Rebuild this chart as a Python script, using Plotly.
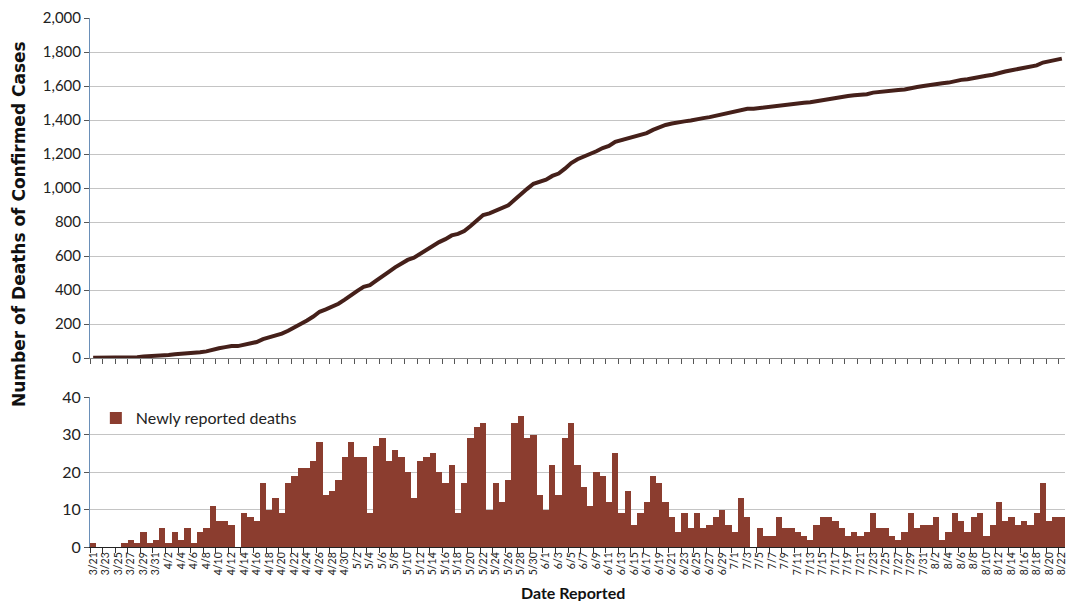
import plotly.graph_objects as go

months = [("3", 21, 31), ("4", 1, 30), ("5", 1, 31), ("6", 1, 30), ("7", 1, 31), ("8", 1, 22)]
dates = [f"{m}/{d}" for m, a, b in months for d in range(a, b + 1)]

daily = [
    1, 0, 0, 0, 0, 1, 2, 1, 4, 1, 2,
    5, 1, 4, 2, 5, 1, 4, 5, 11, 7, 7, 6, 0, 9, 8, 7, 17, 10, 13, 9, 17, 19, 21, 21, 23, 28, 14, 15, 18, 24,
    28, 24, 24, 9, 27, 29, 23, 26, 24, 20, 13, 23, 24, 25, 20, 17, 22, 9, 17, 29, 32, 33, 10, 17, 12, 18, 33, 35, 29, 30, 14,
    10, 22, 14, 29, 33, 22, 16, 11, 20, 19, 12, 25, 9, 15, 6, 9, 12, 19, 17, 12, 8, 4, 9, 5, 9, 5, 6, 8, 10, 6,
    4, 13, 8, 0, 5, 3, 3, 8, 5, 5, 4, 3, 2, 6, 8, 8, 7, 5, 3, 4, 3, 4, 9, 5, 5, 3, 2, 4, 9, 5, 6,
    6, 8, 2, 4, 9, 7, 4, 8, 9, 3, 6, 12, 7, 8, 6, 7, 6, 9, 17, 7, 8, 8,
]

cumulative = [
    1, 1, 1, 1, 1, 2, 4, 5, 9, 10, 12,
    17, 18, 22, 24, 29, 30, 34, 39, 50, 57, 64, 70, 70, 79, 87, 94, 111, 121, 134, 143, 160, 179, 200, 221, 244, 272, 286, 301, 319, 343,
    371, 395, 419, 428, 455, 484, 507, 533, 557, 577, 590, 613, 637, 662, 682, 699, 721, 730, 747, 776, 808, 841, 851, 868, 880, 898, 931, 966, 995, 1025, 1039,
    1049, 1071, 1085, 1114, 1147, 1169, 1185, 1196, 1216, 1235, 1247, 1272, 1281, 1296, 1302, 1311, 1323, 1342, 1359, 1371, 1379, 1383, 1392, 1397, 1406, 1411, 1417, 1425, 1435, 1441,
    1445, 1458, 1466, 1466, 1471, 1474, 1477, 1485, 1490, 1495, 1499, 1502, 1504, 1510, 1518, 1526, 1533, 1538, 1541, 1545, 1548, 1552, 1561, 1566, 1571, 1574, 1576, 1580, 1589, 1594, 1600,
    1606, 1614, 1616, 1620, 1629, 1636, 1640, 1648, 1657, 1660, 1666, 1678, 1685, 1693, 1699, 1706, 1712, 1721, 1738, 1745, 1753, 1761,
]

top_ticks = [0, 200, 400, 600, 800, 1000, 1200, 1400, 1600, 1800, 2000]
bottom_ticks = [0, 10, 20, 30, 40]

FONT = "Lato, 'Open Sans', sans-serif"
n = len(dates)
idx = list(range(n))
label_idx = idx[::2]
label_txt = [dates[i] for i in label_idx]
boundaries = [i - 0.5 for i in range(0, n + 1, 2)]

fig = go.Figure()
fig.add_trace(go.Scatter(x=idx, y=cumulative, mode="lines", line=dict(color="#45201a", width=4),
                         xaxis="x", yaxis="y", showlegend=False))
fig.add_trace(go.Bar(x=idx, y=daily, marker=dict(color="#8b3d2f", line=dict(width=0)),
                     name="Newly reported deaths", xaxis="x2", yaxis="y2", showlegend=True))

top_dom = [(547 - 358) / 529, 1.0]
bot_dom = [0.0, 150 / 529]

fig.update_layout(
    width=1068, height=593,
    margin=dict(l=82, r=11, t=10, b=54),
    paper_bgcolor="white", plot_bgcolor="white",
    font=dict(family=FONT, color="#222222"),
    bargap=0,
    xaxis=dict(domain=[0, 1], anchor="y", range=[-0.5, n - 0.5], tickvals=label_idx, showticklabels=False,
               ticks="", showgrid=False, zeroline=False, showline=True, linecolor="#868686", linewidth=1,
               automargin=False,
               minor=dict(tickmode="array", tickvals=boundaries, ticks="outside", ticklen=5,
                          tickcolor="#555555", showgrid=False)),
    yaxis=dict(domain=top_dom, anchor="x", range=[0, 2000], tickvals=top_ticks,
               ticktext=[f"{v:,}" for v in top_ticks], tickfont=dict(size=15, family=FONT),
               showgrid=True, gridcolor="#c4c4c4", gridwidth=1, zeroline=False, automargin=False,
               showline=True, linecolor="#6a8fb8", linewidth=1, ticks="outside", ticklen=5,
               tickcolor="#555555"),
    xaxis2=dict(domain=[0, 1], anchor="y2", range=[-0.5, n - 0.5], tickvals=label_idx, ticktext=label_txt,
                tickangle=-90, tickfont=dict(size=10.5, family=FONT), ticks="", showgrid=False,
                zeroline=False, showline=True, linecolor="#222222", linewidth=1, automargin=False,
                minor=dict(tickmode="array", tickvals=boundaries, ticks="outside", ticklen=5,
                           tickcolor="#333333", showgrid=False)),
    yaxis2=dict(domain=bot_dom, anchor="x2", range=[0, 40], tickvals=bottom_ticks,
                tickfont=dict(size=16, family=FONT), showgrid=True, gridcolor="#c4c4c4", gridwidth=1,
                zeroline=False, showline=True, linecolor="#6a8fb8", linewidth=1, ticks="outside",
                ticklen=5, tickcolor="#555555", automargin=False),
    legend=dict(x=0.006, y=(547 - 418) / 529, xanchor="left", yanchor="middle",
                bgcolor="rgba(0,0,0,0)", font=dict(size=16, family=FONT), itemwidth=30),
    annotations=[
        dict(text="<b>Number of Deaths of Confirmed Cases</b>", textangle=-90, xref="paper", yref="paper",
             x=(19 - 90) / 975, y=(547 - 224) / 529, xanchor="center", yanchor="middle", showarrow=False,
             font=dict(size=17, family="DejaVu Sans", color="#111111")),
        dict(text="<b>Date Reported</b>", xref="paper", yref="paper", x=(573 - 90) / 975,
             y=(547 - 592) / 529, xanchor="center", yanchor="middle", showarrow=False,
             font=dict(size=16, family=FONT, color="#111111")),
    ],
)

fig.write_html("out.html")
